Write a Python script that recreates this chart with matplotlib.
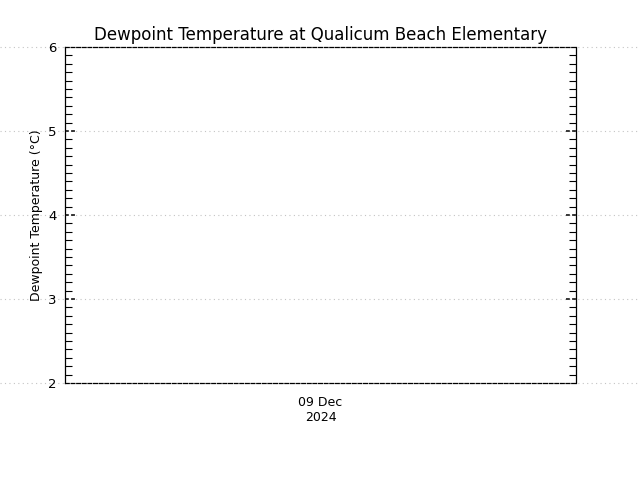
import matplotlib
matplotlib.use('Agg')
import matplotlib.pyplot as plt
import matplotlib.dates as mdates
import matplotlib.transforms as mtransforms
from matplotlib.lines import Line2D
from datetime import datetime

# Data (the station reported nothing for this window)
times = []
dewpoint = []

x_start = datetime(2024, 12, 8, 12, 0)
x_end = datetime(2024, 12, 9, 12, 0)
x_ticks = [datetime(2024, 12, 9, 0, 0)]
x_ticklabels = ['09 Dec\n2024']

y_min, y_max = 2, 6
y_ticks = [2, 3, 4, 5, 6]

title = 'Dewpoint Temperature at Qualicum Beach Elementary'
ylabel = 'Dewpoint Temperature (\u00b0C)'

fig = plt.figure(figsize=(6.4, 4.8), dpi=100)
fig.patch.set_facecolor('white')
ax = fig.add_axes([65/640, 1 - 383/480, (576 - 65)/640, (383 - 47)/480])
ax.patch.set_alpha(0)

ax.plot(times, dewpoint, color='black', linewidth=1)

ax.set_xlim(mdates.date2num(x_start), mdates.date2num(x_end))
ax.set_xticks(mdates.date2num(x_ticks))
ax.set_xticklabels(x_ticklabels, fontsize=9, linespacing=1.25)
ax.tick_params(axis='x', length=0, pad=9)

ax.set_ylim(y_min, y_max)
ax.set_yticks(y_ticks)
ax.set_yticklabels([str(v) for v in y_ticks], fontsize=9.5)
ax.yaxis.set_minor_locator(matplotlib.ticker.AutoMinorLocator(10))
ax.tick_params(axis='y', which='major', length=0, pad=6)
ax.tick_params(axis='y', which='minor', direction='in', length=5, width=0.8,
               left=True, right=True)

# spines: solid sides, dashed top/bottom
for side in ['left', 'right']:
    ax.spines[side].set_linewidth(0.9)
for side in ['top', 'bottom']:
    ax.spines[side].set_linestyle((0, (3, 1.5)))
    ax.spines[side].set_linewidth(0.9)

# dotted grey guide lines running across the whole figure width (behind axes)
grid_tr = mtransforms.blended_transform_factory(fig.transFigure, ax.transData)
for yv in y_ticks:
    fig.add_artist(Line2D([0, 1], [yv, yv], transform=grid_tr, color='#c4c4c4',
                          linestyle=(0, (1, 3)), linewidth=0.8, zorder=-1))

# dashed major ticks on both sides
tick_tr = mtransforms.blended_transform_factory(ax.transAxes, ax.transData)
tick_w = 10 / (576 - 65)
for yv in y_ticks[1:-1]:
    for x0, x1 in [(0, tick_w), (1 - tick_w, 1)]:
        ax.add_line(Line2D([x0, x1], [yv, yv], transform=tick_tr, color='black',
                           linestyle=(0, (2.5, 1.5)), linewidth=1.1,
                           clip_on=False, zorder=3))

ax.set_ylabel(ylabel, fontsize=9, labelpad=4)
ax.set_title(title, fontsize=12, pad=5)

fig.savefig('out.png', dpi=100, facecolor='white')
